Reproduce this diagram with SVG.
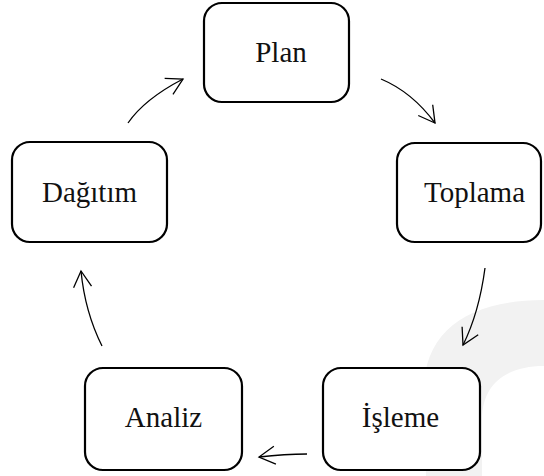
<svg xmlns="http://www.w3.org/2000/svg" width="544" height="476" viewBox="0 0 544 476">
<style>
.box{fill:#fff;stroke:#000;stroke-width:2.2}
.lbl{font-family:"Liberation Serif","Times New Roman",serif;font-size:29px;fill:#111;text-anchor:middle}
.con{fill:none;stroke:#000;stroke-width:1.3}
</style>
<defs>
<marker id="ah" markerUnits="userSpaceOnUse" markerWidth="24" markerHeight="24" viewBox="-20 -12 24 24" refX="0" refY="0" orient="auto" overflow="visible">
<path d="M -16 -9 L 0 0 L -16 9" fill="none" stroke="#000" stroke-width="1.3"/>
</marker>
</defs>
<path d="M 426 476 L 424 390 C 424 330 470 300 544 300 L 544 366 C 505 366 482 385 482 420 L 482 476 Z" fill="#f2f2f2"/>
<g id="connectors">
<path class="con" d="M 128 123 Q 144.5 99 183 79" marker-end="url(#ah)"/>
<path class="con" d="M 381 79 Q 412 92 435 123" marker-end="url(#ah)"/>
<path class="con" d="M 485 268 Q 479 313 463 345" marker-end="url(#ah)"/>
<path class="con" d="M 307 454 Q 285 454 259 457" marker-end="url(#ah)"/>
<path class="con" d="M 102 346 Q 85 312 81 271" marker-end="url(#ah)"/>
</g>
<g id="plan"><rect class="box" x="204" y="3" width="145" height="99" rx="18"/><text class="lbl" x="281" y="62">Plan</text></g>
<g id="toplama"><rect class="box" x="397" y="143" width="144" height="99" rx="18"/><text class="lbl" x="474.5" y="202">Toplama</text></g>
<g id="dagitim"><rect class="box" x="12" y="142" width="155" height="100" rx="18"/><text class="lbl" x="89.5" y="202">Dağıtım</text></g>
<g id="isleme"><rect class="box" x="323" y="368" width="157" height="102" rx="18"/><text class="lbl" x="400.5" y="427">İşleme</text></g>
<g id="analiz"><rect class="box" x="85" y="368" width="157" height="102" rx="18"/><text class="lbl" x="163.5" y="427">Analiz</text></g>
</svg>
